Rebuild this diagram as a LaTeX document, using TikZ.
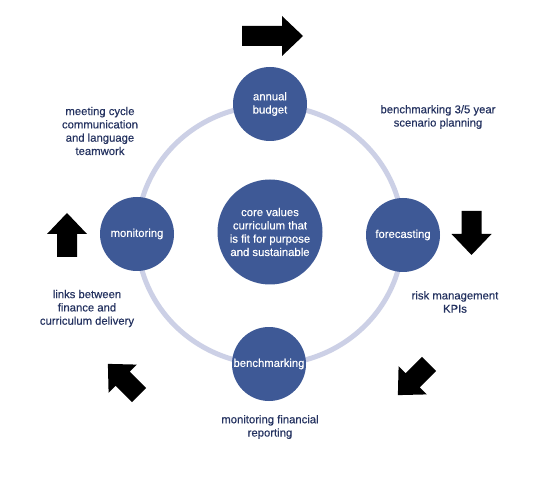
\documentclass[tikz,border=0pt]{standalone}
\usepackage{fontspec}
\setmainfont{Liberation Sans}[FakeBold=0.3]
\definecolor{nodeblue}{RGB}{62,89,150}
\definecolor{ringc}{RGB}{204,208,230}
\definecolor{navy}{RGB}{36,50,96}
\begin{document}
\begin{tikzpicture}[x=1pt,y=-1pt,
  stage/.style={circle, fill=nodeblue, minimum size=74pt, inner sep=0pt, text=white, align=center, font=\fontsize{11.3}{13.3}\selectfont},
  core/.style={stage, minimum size=105pt},
  note/.style={text=navy, align=center, font=\fontsize{11.3}{13.3}\selectfont, inner sep=0pt},
  pics/barrow/.style={code={\fill[black] (0,-10) -- ({#1-21},-10) -- ({#1-21},-20) -- (#1,0) -- ({#1-21},20) -- ({#1-21},10) -- (0,10) -- cycle;}}]
\useasboundingbox[fill=white] (0,0) rectangle (533,481);
% ring
\draw[ringc, line width=5pt] (270,235) ellipse [x radius=133pt, y radius=129.5pt];
% stages
\node[stage] (budget) at (270,104) {annual\\budget};
\node[stage] (forecast) at (403,235) {forecasting};
\node[stage] (bench) at (269,364) {benchmarking};
\node[stage] (monitor) at (137,234) {monitoring};
\node[core] (core) at (270,232) {core values\\curriculum that\\is fit for purpose\\and sustainable};
% notes
\node[note] (n1) at (100,131) {meeting cycle\\communication\\and language\\teamwork};
\node[note] (n2) at (438,117) {benchmarking 3/5 year\\scenario planning};
\node[note] (n3) at (87,308.5) {links between\\finance and\\curriculum delivery};
\node[note] (n4) at (455,302) {risk management\\KPIs};
\node[note] (n5) at (270,427) {monitoring financial\\reporting};
% block arrows
\pic at (242,36) {barrow=61};
\pic[rotate=-90] at (471.5,211) {barrow=44};
\pic[rotate=90] at (67,257) {barrow=44};
\pic[rotate=135] at (139,395) {barrow=44};
\pic[rotate=225] at (429,364) {barrow=44};
\end{tikzpicture}
\end{document}
